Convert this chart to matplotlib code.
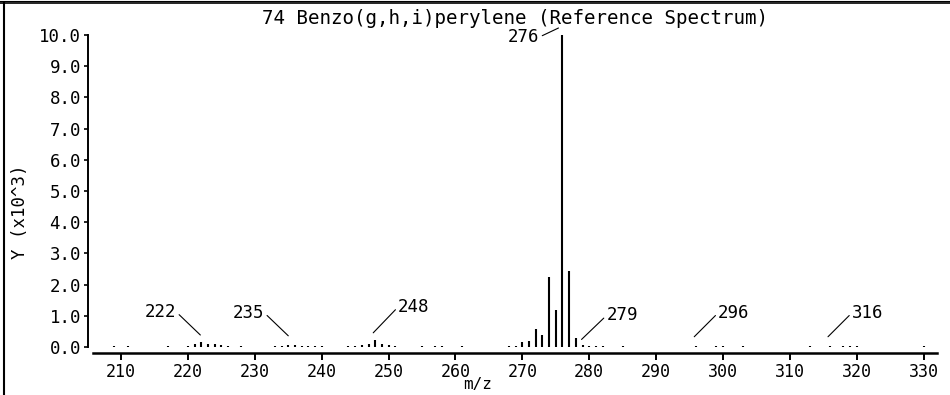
import matplotlib
matplotlib.use('Agg')
import matplotlib.pyplot as plt
from matplotlib.lines import Line2D
from matplotlib.transforms import offset_copy

# peak list
mz = [209, 211, 217, 220, 221, 222, 223, 224, 225, 226, 228,
      233, 234, 235, 236, 237, 238, 239, 240,
      244, 245, 246, 247, 248, 249, 250, 251, 255, 257, 258, 261,
      268, 269, 270, 271, 272, 273, 274, 275, 276, 277, 278,
      279, 280, 281, 282, 285, 296, 299, 300, 303,
      313, 316, 318, 319, 320, 330]
intensity = [40, 40, 40, 40, 90, 160, 110, 90, 60, 40, 40,
             40, 40, 70, 50, 40, 40, 40, 40,
             40, 40, 60, 110, 230, 110, 80, 40, 40, 40, 40, 40,
             40, 40, 150, 180, 590, 400, 2240, 1200, 10000, 2420, 290,
             50, 40, 40, 40, 40, 40, 40, 40, 40,
             40, 40, 40, 40, 40, 40]

# labelled peaks: (m/z, line end offset px, text offset px from line end, ha)
labels = [222, 235, 248, 276, 279, 296, 316]
label_end = [(-1, 7), (0, 9), (-2, 7), (-4, 7), (-1, 6), (-2, 9), (-2, 9)]
label_text = [(-24, 23), (-24, 23), (25, 26), (-19, -9), (25, 24), (24, 24), (24, 24)]
label_ha = ['right', 'right', 'left', 'right', 'left', 'left', 'left']

yticks = [0, 1000, 2000, 3000, 4000, 5000, 6000, 7000, 8000, 9000, 10000]
ytick_labels = ['0.0', '1.0', '2.0', '3.0', '4.0', '5.0', '6.0', '7.0', '8.0', '9.0', '10.0']
xticks = [210, 220, 230, 240, 250, 260, 270, 280, 290, 300, 310, 320, 330]

FONT = 'DejaVu Sans Mono'
plt.rcParams['font.family'] = FONT

W, H = 950, 395
fig = plt.figure(figsize=(W / 100, H / 100), dpi=100)
ax = fig.add_axes([93 / W, (H - 347) / H, 844 / W, 312 / H])

ax.vlines(mz, 0, intensity, color='black', linewidth=1.5)

ax.set_xlim(205.8, 332.0)
ax.set_ylim(0, 10000)

for s in ['top', 'right']:
    ax.spines[s].set_visible(False)
ax.spines['left'].set_position(('outward', 3.6))
ax.spines['bottom'].set_position(('outward', 4.3))
ax.spines['left'].set_linewidth(1.4)
ax.spines['bottom'].set_linewidth(1.8)

ax.set_yticks(yticks)
ax.set_yticklabels(ytick_labels)
ax.set_xticks(xticks)
ax.tick_params(axis='y', direction='out', length=3, width=1.2, pad=2, labelsize=12.5)
ax.tick_params(axis='x', direction='out', length=5, width=1.4, pad=2, labelsize=12)

for m, end, txt, ha in zip(labels, label_end, label_text, label_ha):
    val = intensity[mz.index(m)]
    tr = offset_copy(ax.transData, fig=fig, x=end[0], y=end[1], units='dots')
    ax.annotate(str(m), xy=(m, val), xycoords=tr,
                xytext=txt, textcoords='offset pixels',
                ha=ha, va='center', fontsize=12.5,
                arrowprops=dict(arrowstyle='-', lw=0.8, color='black',
                                shrinkA=0, shrinkB=0,
                                relpos=(1, 0.5) if ha == 'right' else (0, 0.5)),
                annotation_clip=False)

fig.text(515 / W, 1 - 19 / H, '74 Benzo(g,h,i)perylene (Reference Spectrum)',
         ha='center', va='center', fontsize=13.8)
fig.text(478 / W, 1 - 385 / H, 'm/z', ha='center', va='center', fontsize=11.5)
fig.text(20 / W, 1 - 212 / H, 'Y (x10^3)', ha='center', va='center',
         rotation=90, fontsize=12.5)

# outer frame: double rule on top, single rule on the left
fig.add_artist(Line2D([0, 1], [1 - 0.5 / H, 1 - 0.5 / H], color='black', lw=0.8))
fig.add_artist(Line2D([0, 1], [1 - 3 / H, 1 - 3 / H], color='black', lw=1.2))
fig.add_artist(Line2D([4 / W, 4 / W], [0, 1 - 3 / H], color='black', lw=1.5))

fig.savefig('out.png', dpi=100)
